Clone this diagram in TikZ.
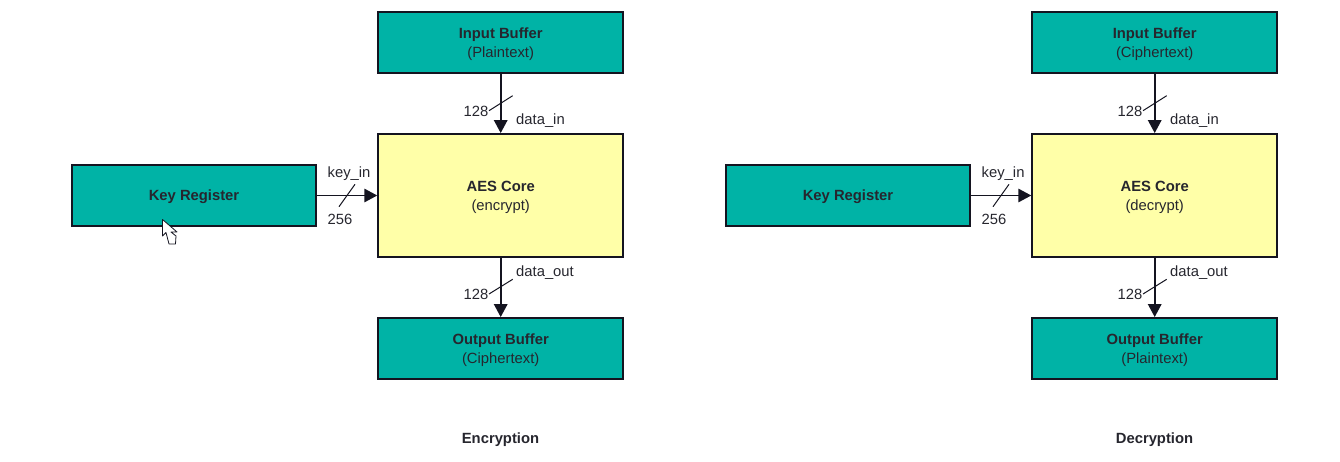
\documentclass[tikz,border=0pt]{standalone}
\usepackage{fontspec}
\setmainfont{Liberation Sans}
\usetikzlibrary{arrows.meta}
\definecolor{tealbox}{HTML}{00B3A6}
\definecolor{corebox}{HTML}{FFFFA8}
\definecolor{inkline}{HTML}{141420}
\definecolor{inktext}{HTML}{26262E}
\newcommand{\lowered}{\rule{0pt}{13.2pt}}
\tikzset{
  x=1pt,y=-1pt,
  block/.style={draw=inkline,line width=1.9pt,inner sep=0pt,align=center,font=\fontsize{14.8}{19}\selectfont,text=inktext},
  tealblock/.style={block,fill=tealbox,minimum width=245pt,minimum height=61pt},
  keyblock/.style={tealblock,minimum width=244.6pt},
  coreblock/.style={block,fill=corebox,minimum width=245pt,minimum height=123pt},
  flow/.style={draw=inkline,line width=1.7pt,-{Triangle[length=13pt,width=13.5pt]},shorten >=0pt},
  tick/.style={draw=inkline,line width=1pt},
  lbl/.style={inner sep=0pt,text=inktext,font=\fontsize{14.8}{17}\selectfont},
  captext/.style={inner sep=0pt,text=inktext,font=\bfseries\fontsize{14.8}{17}\selectfont},
}
\newcommand{\panel}[6]{%
  \begin{scope}[shift={(#1,0)}]
    \node[tealblock] (#2in) at (500.7,42.5) {\lowered\textbf{Input Buffer}\\(#3)};
    \node[coreblock] (#2core) at (500.7,195.5) {\lowered\textbf{AES Core}\\(#4)};
    \node[tealblock] (#2out) at (500.7,348.5) {\lowered\textbf{Output Buffer}\\(#5)};
    \node[keyblock] (#2key) at (194,195.5) {\lowered\textbf{Key Register}};
    \draw[flow] (#2in) -- (#2core);
    \draw[flow] (#2core) -- (#2out);
    \draw[flow] (#2key) -- (#2core);
    \coordinate (#2ta) at (489,110.7); \coordinate (#2tb) at (512.7,95.7);
    \coordinate (#2tc) at (489,294); \coordinate (#2td) at (512.7,279.3);
    \coordinate (#2te) at (339,206.7); \coordinate (#2tf) at (355,184.3);
    \draw[tick] (#2ta) -- (#2tb);
    \draw[tick] (#2tc) -- (#2td);
    \draw[tick] (#2te) -- (#2tf);
    \node[lbl,anchor=base west] (#2la) at (516,124.5) {data\_in};
    \node[lbl,anchor=base west] (#2lb) at (516,276.5) {data\_out};
    \node[lbl,anchor=base west] (#2lc) at (327.5,177.5) {key\_in};
    \node[lbl,anchor=base east] (#2ld) at (488.5,116.5) {128};
    \node[lbl,anchor=base east] (#2le) at (488.5,299.5) {128};
    \node[lbl,anchor=base west] (#2lf) at (327.5,225) {256};
    \node[captext,anchor=base] (#2cap) at (500.5,443) {#6};
  \end{scope}}
\begin{document}
\begin{tikzpicture}
  \useasboundingbox (0,0) rectangle (1340,462);
  \panel{0}{e}{Plaintext}{encrypt}{Ciphertext}{Encryption}
  \panel{654}{d}{Ciphertext}{decrypt}{Plaintext}{Decryption}
  \draw[fill=white,draw=inkline,line width=.8pt,line join=round]
    (162.5,219.5) -- (162.5,236) -- (166,232.5) -- (169,244) -- (175.5,244) -- (176,236) -- (171,232) -- (177,232) -- cycle;
\end{tikzpicture}
\end{document}
